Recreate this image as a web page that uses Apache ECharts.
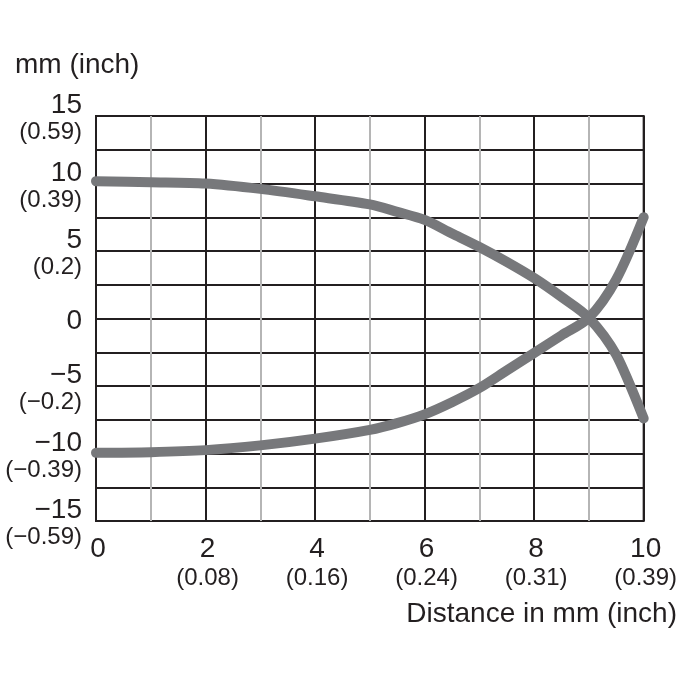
<!DOCTYPE html>
<html>
<head>
<meta charset="utf-8">
<script src="https://cdn.jsdelivr.net/npm/echarts@6/dist/echarts.min.js"></script>
<style>
  html, body { margin: 0; padding: 0; background: #fff; overflow: hidden; }
  #chart { width: 680px; height: 680px; }
</style>
</head>
<body>
<div id="chart"></div>
<script>
// distance in mm
const xUpper = [0, 1, 2, 3, 4, 5, 5.5, 6, 6.5, 7, 7.5, 8, 8.5, 9, 9.5, 10]
const yUpper = [10.17, 10.1, 10.0, 9.6, 9.05, 8.45, 7.9, 7.3, 6.3, 5.3, 4.2, 3.0, 1.6, 0.05, -2.7, -7.4]
const xLower = [0, 1, 2, 3, 4, 5, 5.5, 6, 6.5, 7, 7.5, 8, 8.5, 9, 9.5, 10]
const yLower = [-9.95, -9.9, -9.75, -9.4, -8.9, -8.25, -7.75, -7.1, -6.2, -5.15, -3.85, -2.55, -1.25, 0.05, 2.9, 7.5]

// tick labels
const yTickValues = [15, 10, 5, 0, -5, -10, -15]
const yTickMm = ['15', '10', '5', '0', '\u22125', '\u221210', '\u221215']
const yTickInch = ['(0.59)', '(0.39)', '(0.2)', '', '(\u22120.2)', '(\u22120.39)', '(\u22120.59)']
const xTickValues = [0, 2, 4, 6, 8, 10]
const xTickMm = ['0', '2', '4', '6', '8', '10']
const xTickInch = ['', '(0.08)', '(0.16)', '(0.24)', '(0.31)', '(0.39)']

const ink = '#231f20'
const font = '"Liberation Sans", Arial, sans-serif'

function twoLine(values, mm, inch) {
  return function (v) {
    const i = values.indexOf(v)
    if (i < 0) return ''
    return inch[i] ? mm[i] + '\n{s|' + inch[i] + '}' : mm[i]
  }
}

const chart = echarts.init(document.getElementById('chart'))
chart.setOption({
  animation: false,
  textStyle: { fontFamily: font },
  title: [
    {
      text: 'mm (inch)',
      left: 15, top: 51, padding: 0,
      textStyle: { fontFamily: font, fontSize: 28, fontWeight: 'normal', color: ink }
    },
    {
      text: 'Distance in mm (inch)',
      right: 3, top: 600, padding: 0,
      textStyle: { fontFamily: font, fontSize: 28, fontWeight: 'normal', color: ink }
    }
  ],
  grid: {
    left: 96, right: 30, top: 116, bottom: 159,
    show: true, borderColor: ink, borderWidth: 2, backgroundColor: 'transparent'
  },
  xAxis: {
    type: 'value',
    min: 0, max: 10, interval: 1,
    axisLine: { show: false },
    axisTick: { show: false },
    splitLine: { show: true, lineStyle: { color: [ink, '#b5b5b5'], width: 2 } },
    axisLabel: {
      margin: 14,
      padding: [0, 0, 0, 4],
      color: ink,
      fontSize: 28,
      lineHeight: 29,
      fontFamily: font,
      formatter: twoLine(xTickValues, xTickMm, xTickInch),
      rich: { s: { fontSize: 24, lineHeight: 29, fontFamily: font, color: ink } }
    }
  },
  yAxis: {
    type: 'value',
    min: -15, max: 15, interval: 2.5,
    axisLine: { show: false },
    axisTick: { show: false },
    splitLine: { show: true, lineStyle: { color: ink, width: 2 } },
    axisLabel: {
      margin: 14,
      padding: [6, 0, 0, 0],
      color: ink,
      fontSize: 28,
      lineHeight: 27,
      fontFamily: font,
      formatter: twoLine(yTickValues, yTickMm, yTickInch),
      rich: { s: { fontSize: 24, lineHeight: 27, fontFamily: font, color: ink, align: 'right' } }
    }
  },
  series: [
    {
      type: 'line',
      data: xUpper.map((x, i) => [x, yUpper[i]]),
      smooth: 0.3,
      showSymbol: false,
      lineStyle: { color: '#77787b', width: 10, cap: 'round', join: 'round' }
    },
    {
      type: 'line',
      data: xLower.map((x, i) => [x, yLower[i]]),
      smooth: 0.3,
      showSymbol: false,
      lineStyle: { color: '#77787b', width: 10, cap: 'round', join: 'round' }
    }
  ]
})
</script>
</body>
</html>
